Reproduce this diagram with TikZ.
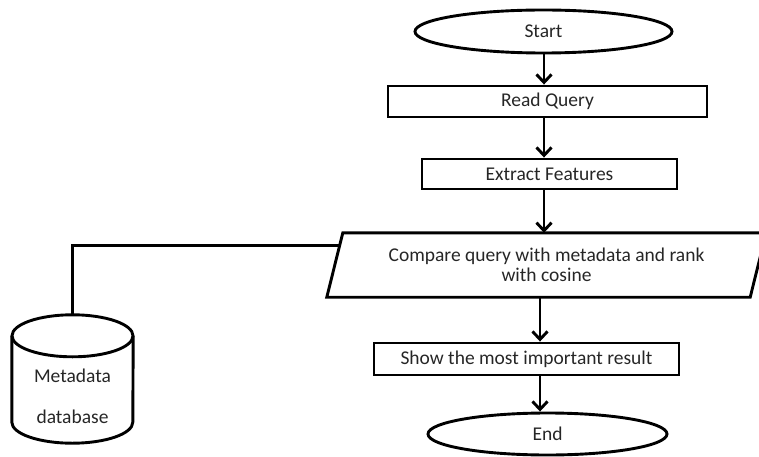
\documentclass[tikz,border=0pt]{standalone}
\usepackage{fontspec}
\setmainfont{Carlito}
\usetikzlibrary{shapes.geometric,arrows.meta,calc}

\begin{document}
\begin{tikzpicture}[x=1pt,y=1pt,
  every node/.style={font=\fontsize{19.5}{20}\selectfont, text=black!85, inner sep=0pt},
  outline/.style={draw=black, line width=2.9pt},
  terminal/.style={outline, ellipse},
  process/.style={outline, rectangle},
  flow/.style={draw=black, line width=2.9pt, -{Straight Barb[length=8pt,width=15pt,line width=2.9pt]}},
  link/.style={draw=black, line width=2.9pt}
]
\useasboundingbox (0,0) rectangle (759,-457);

% main chain of steps
\node[terminal, minimum width=257, minimum height=43] (start) at (543.5,-31.5) {Start};
\node[process, minimum width=319, minimum height=31] (read) at (547.5,-101.5) {Read Query};
\node[process, minimum width=255, minimum height=30] (extract) at (549.5,-174) {Extract Features};
\node[minimum width=423, minimum height=64, align=center] (compare) at (546.5,-265)
  {Compare query with metadata and rank\\with cosine};
\node[process, minimum width=305, minimum height=32] (show) at (526.5,-359) {Show the most important result};
\node[terminal, minimum width=239, minimum height=42] (end) at (547.5,-434) {End};

% input/output parallelogram around the comparison step
\draw[outline, line join=miter]
  ($(compare.north west)+(8,0)$) coordinate (cmpTL)
  -- ($(compare.north east)+(8,0)$)
  -- ($(compare.south east)+(-8,0)$)
  -- ($(compare.south west)+(-8,0)$) coordinate (cmpBL)
  -- cycle;
\coordinate (cmpL) at ($(cmpTL)!0.2!(cmpBL)$);

% metadata store drawn as a cylinder
\node[minimum width=121, minimum height=128] (db) at (72.5,-379) {};
\draw[outline]
  ($(db.north west)+(0,-21)$) -- ($(db.south west)+(0,21)$)
  arc[start angle=180, end angle=360, x radius=60.5, y radius=21]
  -- ($(db.north east)+(0,-21)$);
\draw[outline] ($(db.north)+(0,-21)$) ellipse[x radius=60.5, y radius=21];
\node[align=center, font=\fontsize{19.5}{41}\selectfont] (dblabel) at ($(db.center)+(0,-17)$) {Metadata\\database};

% connectors
\coordinate (axisA) at (544,0);
\coordinate (axisB) at (540,0);
\draw[flow] (start.south -| axisA) -- (read.north -| axisA);
\draw[flow] (read.south -| axisA) -- (extract.north -| axisA);
\draw[flow] (extract.south -| axisA) -- (compare.north -| axisA);
\draw[flow] (compare.south -| axisB) -- (show.north -| axisB);
\draw[flow] (show.south -| axisB) -- (end.north -| axisB);
\draw[link] (cmpL) -- (cmpL -| db.north) -- (db.north);
\end{tikzpicture}
\end{document}
